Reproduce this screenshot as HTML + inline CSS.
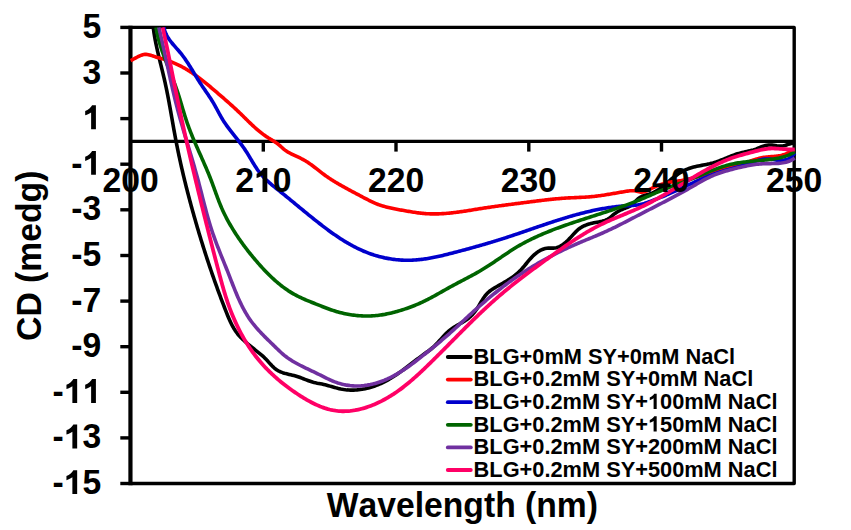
<!DOCTYPE html>
<html><head><meta charset="utf-8"><style>
html,body{margin:0;padding:0;background:#fff;width:851px;height:530px;overflow:hidden;font-family:"Liberation Sans",sans-serif}
</style></head><body>
<svg width="851" height="530" viewBox="0 0 851 530" style="position:absolute;left:0;top:0">
<g stroke="#000" stroke-width="3.4" fill="none" stroke-linecap="butt">
<path d="M130.60,27.40 H794.20 V483.50 H130.60" stroke-linejoin="round"/>
<line x1="130.45" y1="25.70" x2="130.45" y2="485.20" stroke-width="4.2"/>
<line x1="130.6" y1="141.4" x2="794.2" y2="141.4"/>
<line x1="120.3" y1="27.4" x2="130.6" y2="27.4"/>
<line x1="120.3" y1="73.0" x2="130.6" y2="73.0"/>
<line x1="120.3" y1="118.6" x2="130.6" y2="118.6"/>
<line x1="120.3" y1="164.2" x2="130.6" y2="164.2"/>
<line x1="120.3" y1="209.8" x2="130.6" y2="209.8"/>
<line x1="120.3" y1="255.5" x2="130.6" y2="255.5"/>
<line x1="120.3" y1="301.1" x2="130.6" y2="301.1"/>
<line x1="120.3" y1="346.7" x2="130.6" y2="346.7"/>
<line x1="120.3" y1="392.3" x2="130.6" y2="392.3"/>
<line x1="120.3" y1="437.9" x2="130.6" y2="437.9"/>
<line x1="120.3" y1="483.5" x2="130.6" y2="483.5"/>
<line x1="263.3" y1="141.4" x2="263.3" y2="151.6"/>
<line x1="396.0" y1="141.4" x2="396.0" y2="151.6"/>
<line x1="528.8" y1="141.4" x2="528.8" y2="151.6"/>
<line x1="661.5" y1="141.4" x2="661.5" y2="151.6"/>
</g>
<g fill="none" stroke-linejoin="round" stroke-linecap="butt">
<path d="M153.26,27.40 L153.39,28.51 L153.60,30.13 L153.83,31.75 L154.08,33.37 L154.34,34.99 L154.61,36.60 L154.89,38.21 L155.19,39.82 L155.50,41.43 L155.82,43.04 L156.15,44.64 L156.48,46.24 L156.83,47.85 L157.18,49.45 L157.54,51.04 L157.91,52.64 L158.29,54.24 L158.66,55.83 L159.05,57.43 L159.43,59.02 L159.82,60.62 L160.21,62.21 L160.60,63.80 L161.00,65.40 L161.39,66.99 L161.78,68.58 L162.17,70.17 L162.56,71.77 L162.95,73.36 L163.33,74.96 L163.71,76.55 L164.08,78.15 L164.45,79.75 L164.81,81.34 L165.16,82.94 L165.51,84.54 L165.85,86.14 L166.19,87.75 L166.52,89.35 L166.85,90.95 L167.17,92.56 L167.49,94.16 L167.80,95.77 L168.11,97.37 L168.42,98.98 L168.72,100.59 L169.02,102.20 L169.32,103.81 L169.61,105.42 L169.90,107.03 L170.19,108.64 L170.48,110.25 L170.77,111.86 L171.05,113.47 L171.34,115.08 L171.62,116.69 L171.90,118.30 L172.19,119.91 L172.47,121.52 L172.76,123.13 L173.04,124.74 L173.33,126.36 L173.61,127.97 L173.90,129.58 L174.19,131.19 L174.48,132.80 L174.78,134.41 L175.08,136.02 L175.38,137.63 L175.68,139.23 L175.99,140.84 L176.30,142.45 L176.61,144.06 L176.93,145.66 L177.25,147.27 L177.57,148.87 L177.90,150.48 L178.23,152.08 L178.57,153.68 L178.90,155.29 L179.25,156.89 L179.59,158.49 L179.94,160.09 L180.29,161.69 L180.65,163.29 L181.00,164.89 L181.36,166.49 L181.73,168.09 L182.10,169.68 L182.47,171.28 L182.84,172.87 L183.22,174.47 L183.60,176.06 L183.98,177.66 L184.36,179.25 L184.75,180.84 L185.14,182.43 L185.54,184.02 L185.93,185.61 L186.33,187.20 L186.74,188.79 L187.14,190.38 L187.55,191.96 L187.96,193.55 L188.37,195.13 L188.79,196.72 L189.20,198.30 L189.62,199.88 L190.05,201.46 L190.47,203.04 L190.90,204.62 L191.33,206.20 L191.76,207.78 L192.20,209.36 L192.63,210.93 L193.07,212.51 L193.52,214.08 L193.96,215.66 L194.41,217.23 L194.85,218.80 L195.30,220.37 L195.76,221.94 L196.21,223.51 L196.67,225.08 L197.13,226.65 L197.59,228.21 L198.05,229.78 L198.51,231.34 L198.98,232.91 L199.45,234.47 L199.92,236.03 L200.40,237.59 L200.87,239.15 L201.35,240.71 L201.84,242.27 L202.32,243.83 L202.80,245.39 L203.29,246.95 L203.78,248.50 L204.28,250.06 L204.77,251.61 L205.27,253.17 L205.77,254.72 L206.28,256.28 L206.78,257.83 L207.29,259.38 L207.80,260.93 L208.31,262.48 L208.83,264.03 L209.35,265.58 L209.87,267.13 L210.39,268.68 L210.92,270.23 L211.45,271.78 L211.98,273.32 L212.51,274.87 L213.05,276.42 L213.59,277.96 L214.13,279.51 L214.68,281.05 L215.23,282.60 L215.78,284.14 L216.33,285.69 L216.89,287.23 L217.45,288.77 L218.01,290.32 L218.57,291.86 L219.14,293.40 L219.71,294.94 L220.29,296.49 L220.86,298.03 L221.44,299.57 L222.03,301.11 L222.61,302.65 L223.20,304.19 L223.79,305.73 L224.39,307.27 L224.99,308.81 L225.59,310.35 L226.19,311.89 L226.80,313.43 L227.42,314.96 L228.05,316.49 L228.69,318.01 L229.35,319.52 L230.02,321.01 L230.72,322.49 L231.44,323.95 L232.18,325.40 L232.96,326.82 L233.76,328.22 L234.60,329.59 L235.48,330.93 L236.39,332.24 L237.34,333.52 L238.34,334.77 L239.39,335.98 L240.47,337.15 L241.60,338.30 L242.76,339.42 L243.96,340.52 L245.17,341.61 L246.41,342.69 L247.66,343.76 L248.92,344.82 L250.20,345.88 L251.48,346.93 L252.76,347.97 L254.05,349.01 L255.34,350.04 L256.62,351.06 L257.89,352.07 L259.15,353.08 L260.40,354.10 L261.64,355.13 L262.85,356.18 L264.05,357.28 L265.21,358.42 L266.36,359.61 L267.48,360.83 L268.60,362.08 L269.71,363.33 L270.84,364.56 L271.99,365.77 L273.16,366.93 L274.37,368.03 L275.62,369.05 L276.93,369.97 L278.30,370.79 L279.72,371.51 L281.20,372.13 L282.73,372.68 L284.29,373.17 L285.87,373.61 L287.48,374.01 L289.11,374.39 L290.74,374.77 L292.36,375.16 L293.98,375.56 L295.58,376.00 L297.16,376.49 L298.72,377.01 L300.26,377.56 L301.79,378.13 L303.32,378.72 L304.83,379.31 L306.35,379.90 L307.86,380.47 L309.39,381.02 L310.92,381.54 L312.46,382.03 L314.02,382.47 L315.61,382.85 L317.20,383.19 L318.82,383.49 L320.43,383.79 L322.04,384.10 L323.64,384.44 L325.23,384.82 L326.80,385.23 L328.37,385.66 L329.93,386.11 L331.48,386.56 L333.03,387.01 L334.58,387.46 L336.13,387.88 L337.68,388.29 L339.23,388.66 L340.80,389.00 L342.37,389.30 L343.95,389.56 L345.55,389.76 L347.16,389.92 L348.78,390.03 L350.42,390.09 L352.06,390.11 L353.70,390.08 L355.35,390.01 L357.01,389.90 L358.66,389.74 L360.31,389.54 L361.96,389.30 L363.60,389.01 L365.24,388.69 L366.86,388.33 L368.48,387.94 L370.08,387.50 L371.67,387.03 L373.24,386.53 L374.80,385.99 L376.34,385.42 L377.86,384.82 L379.36,384.18 L380.85,383.52 L382.33,382.83 L383.79,382.11 L385.24,381.37 L386.67,380.60 L388.09,379.81 L389.50,379.00 L390.90,378.17 L392.29,377.31 L393.67,376.44 L395.04,375.56 L396.40,374.65 L397.75,373.73 L399.09,372.80 L400.42,371.86 L401.75,370.90 L403.08,369.94 L404.39,368.97 L405.71,367.99 L407.02,367.00 L408.32,366.01 L409.62,365.02 L410.92,364.03 L412.22,363.03 L413.51,362.03 L414.81,361.04 L416.10,360.04 L417.40,359.06 L418.69,358.07 L419.99,357.10 L421.29,356.13 L422.59,355.16 L423.89,354.21 L425.20,353.27 L426.51,352.34 L427.82,351.41 L429.11,350.46 L430.38,349.50 L431.64,348.50 L432.86,347.47 L434.05,346.40 L435.21,345.29 L436.34,344.13 L437.45,342.96 L438.55,341.75 L439.63,340.54 L440.71,339.32 L441.80,338.10 L442.89,336.89 L444.00,335.70 L445.13,334.52 L446.28,333.38 L447.45,332.26 L448.66,331.18 L449.91,330.15 L451.19,329.16 L452.52,328.22 L453.88,327.33 L455.27,326.46 L456.68,325.63 L458.10,324.80 L459.53,323.99 L460.96,323.17 L462.38,322.35 L463.78,321.50 L465.17,320.63 L466.52,319.72 L467.83,318.77 L469.10,317.77 L470.32,316.70 L471.48,315.57 L472.60,314.39 L473.67,313.15 L474.70,311.87 L475.69,310.54 L476.65,309.17 L477.57,307.78 L478.46,306.35 L479.33,304.91 L480.19,303.46 L481.05,302.01 L481.92,300.57 L482.80,299.16 L483.71,297.78 L484.66,296.45 L485.66,295.17 L486.71,293.96 L487.83,292.83 L489.01,291.77 L490.25,290.77 L491.54,289.83 L492.87,288.94 L494.24,288.08 L495.63,287.25 L497.04,286.44 L498.47,285.64 L499.90,284.84 L501.33,284.04 L502.76,283.23 L504.18,282.41 L505.60,281.58 L507.01,280.74 L508.40,279.87 L509.78,278.99 L511.14,278.09 L512.48,277.16 L513.80,276.20 L515.09,275.21 L516.35,274.19 L517.59,273.14 L518.78,272.04 L519.95,270.91 L521.07,269.74 L522.17,268.53 L523.24,267.29 L524.29,266.04 L525.34,264.77 L526.38,263.49 L527.42,262.22 L528.47,260.95 L529.53,259.69 L530.62,258.45 L531.74,257.24 L532.89,256.06 L534.09,254.93 L535.33,253.84 L536.61,252.81 L537.94,251.85 L539.31,250.98 L540.72,250.20 L542.17,249.52 L543.66,248.97 L545.19,248.54 L546.76,248.26 L548.36,248.13 L549.98,248.11 L551.62,248.13 L553.24,248.11 L554.84,247.97 L556.40,247.66 L557.91,247.20 L559.39,246.59 L560.83,245.86 L562.23,245.01 L563.59,244.06 L564.90,243.03 L566.18,241.93 L567.42,240.77 L568.61,239.57 L569.77,238.34 L570.90,237.10 L572.02,235.85 L573.13,234.61 L574.24,233.39 L575.37,232.21 L576.52,231.06 L577.71,229.98 L578.93,228.96 L580.22,228.02 L581.56,227.17 L582.96,226.41 L584.41,225.72 L585.90,225.10 L587.43,224.55 L589.00,224.06 L590.59,223.61 L592.20,223.21 L593.83,222.85 L595.47,222.51 L597.11,222.20 L598.74,221.91 L600.37,221.60 L601.97,221.26 L603.54,220.85 L605.06,220.36 L606.54,219.76 L607.95,219.02 L609.29,218.12 L610.59,217.10 L611.86,216.02 L613.12,214.93 L614.42,213.89 L615.75,212.93 L617.13,212.04 L618.54,211.22 L619.98,210.46 L621.44,209.75 L622.93,209.09 L624.45,208.46 L625.97,207.87 L627.50,207.27 L628.99,206.62 L630.41,205.86 L631.74,204.95 L632.98,203.90 L634.16,202.75 L635.31,201.55 L636.46,200.36 L637.64,199.21 L638.88,198.15 L640.21,197.23 L641.64,196.48 L643.16,195.87 L644.73,195.34 L646.35,194.88 L647.97,194.44 L649.58,193.97 L651.15,193.45 L652.66,192.84 L654.13,192.16 L655.56,191.41 L656.94,190.60 L658.29,189.73 L659.62,188.81 L660.91,187.85 L662.19,186.85 L663.45,185.83 L664.70,184.78 L665.95,183.73 L667.19,182.66 L668.44,181.59 L669.70,180.53 L670.97,179.48 L672.24,178.44 L673.53,177.41 L674.83,176.41 L676.15,175.44 L677.48,174.49 L678.83,173.58 L680.20,172.71 L681.59,171.88 L683.00,171.10 L684.44,170.36 L685.90,169.69 L687.39,169.07 L688.90,168.51 L690.43,168.00 L691.99,167.53 L693.56,167.11 L695.15,166.72 L696.76,166.36 L698.37,166.02 L699.99,165.69 L701.62,165.38 L703.25,165.07 L704.88,164.75 L706.50,164.43 L708.13,164.09 L709.74,163.74 L711.35,163.35 L712.94,162.93 L714.52,162.47 L716.08,161.98 L717.63,161.44 L719.16,160.88 L720.69,160.29 L722.21,159.69 L723.72,159.07 L725.23,158.44 L726.74,157.81 L728.25,157.18 L729.76,156.57 L731.27,155.97 L732.80,155.38 L734.33,154.83 L735.87,154.30 L737.43,153.82 L739.00,153.37 L740.58,152.95 L742.17,152.57 L743.77,152.19 L745.37,151.83 L746.97,151.47 L748.57,151.10 L750.16,150.71 L751.75,150.30 L753.33,149.86 L754.89,149.37 L756.43,148.83 L757.96,148.25 L759.48,147.64 L760.99,147.04 L762.50,146.46 L764.01,145.94 L765.54,145.50 L767.08,145.17 L768.64,144.97 L770.24,144.94 L771.85,145.04 L773.49,145.24 L775.14,145.49 L776.79,145.74 L778.44,145.94 L780.08,146.05 L781.71,146.03 L783.32,145.83 L784.91,145.45 L786.48,144.95 L788.06,144.41 L789.63,143.91 L791.23,143.50 L792.85,143.27 L794.52,143.29" stroke="#000000" stroke-width="3.6"/>
<path d="M130.60,60.53 L131.60,60.09 L132.62,59.58 L133.67,59.03 L134.75,58.44 L135.84,57.84 L136.95,57.23 L138.08,56.65 L139.22,56.09 L140.36,55.59 L141.51,55.16 L142.67,54.80 L143.83,54.55 L144.98,54.41 L146.13,54.40 L147.27,54.49 L148.42,54.68 L149.56,54.93 L150.71,55.25 L151.85,55.62 L153.00,56.01 L154.15,56.41 L155.31,56.81 L156.47,57.19 L157.64,57.53 L158.82,57.85 L159.99,58.15 L161.16,58.47 L162.33,58.80 L163.49,59.14 L164.64,59.50 L165.79,59.87 L166.93,60.25 L168.07,60.65 L169.20,61.06 L170.33,61.49 L171.45,61.93 L172.57,62.38 L173.68,62.84 L174.78,63.32 L175.88,63.81 L176.97,64.31 L178.06,64.82 L179.14,65.35 L180.21,65.88 L181.28,66.43 L182.34,66.99 L183.40,67.57 L184.45,68.15 L185.49,68.75 L186.53,69.36 L187.56,69.97 L188.58,70.60 L189.60,71.24 L190.61,71.89 L191.62,72.55 L192.62,73.22 L193.61,73.90 L194.60,74.59 L195.58,75.29 L196.56,75.99 L197.53,76.70 L198.50,77.42 L199.47,78.15 L200.43,78.88 L201.38,79.62 L202.33,80.36 L203.28,81.11 L204.23,81.87 L205.17,82.62 L206.11,83.39 L207.04,84.15 L207.97,84.92 L208.90,85.70 L209.83,86.47 L210.76,87.25 L211.68,88.03 L212.60,88.81 L213.52,89.59 L214.44,90.38 L215.36,91.16 L216.28,91.94 L217.19,92.72 L218.11,93.51 L219.02,94.29 L219.93,95.07 L220.84,95.86 L221.75,96.64 L222.66,97.43 L223.57,98.22 L224.47,99.01 L225.38,99.80 L226.28,100.59 L227.18,101.38 L228.08,102.17 L228.97,102.97 L229.87,103.77 L230.76,104.57 L231.65,105.37 L232.54,106.18 L233.43,106.99 L234.31,107.80 L235.19,108.61 L236.07,109.43 L236.95,110.25 L237.82,111.07 L238.69,111.90 L239.56,112.73 L240.43,113.56 L241.29,114.40 L242.16,115.24 L243.02,116.08 L243.87,116.93 L244.73,117.78 L245.59,118.62 L246.45,119.47 L247.31,120.31 L248.17,121.16 L249.04,122.00 L249.90,122.84 L250.77,123.67 L251.65,124.50 L252.52,125.32 L253.40,126.14 L254.29,126.96 L255.18,127.76 L256.08,128.56 L256.99,129.35 L257.90,130.13 L258.82,130.90 L259.75,131.66 L260.69,132.41 L261.63,133.15 L262.59,133.88 L263.55,134.59 L264.52,135.29 L265.51,135.98 L266.50,136.65 L267.51,137.31 L268.52,137.96 L269.55,138.59 L270.58,139.22 L271.61,139.85 L272.64,140.48 L273.66,141.12 L274.68,141.77 L275.68,142.43 L276.67,143.12 L277.65,143.83 L278.60,144.57 L279.54,145.34 L280.45,146.14 L281.35,146.96 L282.25,147.78 L283.15,148.59 L284.08,149.37 L285.03,150.11 L286.00,150.81 L287.01,151.47 L288.03,152.10 L289.07,152.70 L290.14,153.28 L291.21,153.83 L292.30,154.37 L293.39,154.89 L294.50,155.40 L295.60,155.91 L296.71,156.41 L297.82,156.92 L298.92,157.43 L300.02,157.95 L301.10,158.49 L302.18,159.04 L303.24,159.61 L304.29,160.20 L305.33,160.82 L306.35,161.45 L307.36,162.09 L308.37,162.76 L309.36,163.43 L310.34,164.12 L311.32,164.82 L312.29,165.53 L313.25,166.25 L314.20,166.97 L315.16,167.70 L316.11,168.44 L317.05,169.17 L318.00,169.91 L318.94,170.65 L319.88,171.38 L320.83,172.12 L321.78,172.85 L322.72,173.57 L323.68,174.28 L324.63,174.99 L325.59,175.69 L326.56,176.37 L327.53,177.05 L328.51,177.72 L329.49,178.38 L330.48,179.03 L331.47,179.67 L332.47,180.31 L333.48,180.94 L334.48,181.56 L335.50,182.18 L336.52,182.79 L337.54,183.40 L338.57,184.00 L339.60,184.60 L340.64,185.19 L341.68,185.78 L342.73,186.37 L343.78,186.95 L344.83,187.53 L345.88,188.11 L346.94,188.69 L348.00,189.26 L349.06,189.83 L350.13,190.40 L351.19,190.97 L352.26,191.54 L353.33,192.10 L354.40,192.67 L355.47,193.23 L356.54,193.80 L357.61,194.37 L358.68,194.93 L359.75,195.50 L360.82,196.07 L361.89,196.64 L362.96,197.22 L364.03,197.79 L365.10,198.35 L366.17,198.92 L367.24,199.47 L368.32,200.02 L369.40,200.57 L370.48,201.10 L371.56,201.62 L372.65,202.13 L373.74,202.63 L374.84,203.11 L375.94,203.57 L377.05,204.02 L378.17,204.44 L379.29,204.85 L380.42,205.24 L381.55,205.61 L382.69,205.96 L383.83,206.30 L384.98,206.63 L386.14,206.94 L387.30,207.24 L388.46,207.52 L389.62,207.80 L390.79,208.06 L391.97,208.31 L393.15,208.56 L394.33,208.80 L395.51,209.03 L396.69,209.26 L397.88,209.48 L399.07,209.69 L400.26,209.91 L401.45,210.12 L402.65,210.33 L403.84,210.54 L405.04,210.74 L406.23,210.95 L407.43,211.16 L408.63,211.37 L409.83,211.57 L411.02,211.77 L412.22,211.96 L413.42,212.16 L414.62,212.34 L415.82,212.52 L417.02,212.69 L418.22,212.85 L419.42,213.01 L420.62,213.15 L421.82,213.28 L423.02,213.40 L424.22,213.51 L425.42,213.61 L426.62,213.69 L427.82,213.76 L429.02,213.82 L430.22,213.86 L431.42,213.89 L432.62,213.91 L433.82,213.92 L435.02,213.92 L436.22,213.90 L437.42,213.88 L438.62,213.84 L439.81,213.79 L441.01,213.74 L442.21,213.67 L443.41,213.60 L444.61,213.52 L445.80,213.42 L447.00,213.33 L448.20,213.22 L449.40,213.10 L450.59,212.98 L451.79,212.85 L452.99,212.72 L454.18,212.58 L455.38,212.43 L456.58,212.28 L457.77,212.12 L458.97,211.96 L460.17,211.80 L461.36,211.63 L462.56,211.45 L463.75,211.28 L464.95,211.10 L466.14,210.91 L467.34,210.73 L468.53,210.54 L469.73,210.35 L470.92,210.16 L472.12,209.97 L473.31,209.78 L474.50,209.58 L475.70,209.39 L476.89,209.20 L478.08,209.00 L479.28,208.81 L480.47,208.62 L481.66,208.44 L482.85,208.25 L484.05,208.07 L485.24,207.88 L486.43,207.70 L487.62,207.53 L488.81,207.35 L490.01,207.18 L491.20,207.00 L492.39,206.83 L493.58,206.67 L494.77,206.50 L495.96,206.33 L497.15,206.17 L498.34,206.01 L499.54,205.84 L500.73,205.68 L501.92,205.52 L503.11,205.36 L504.30,205.21 L505.49,205.05 L506.68,204.89 L507.87,204.74 L509.07,204.58 L510.26,204.43 L511.45,204.28 L512.64,204.12 L513.83,203.97 L515.03,203.81 L516.22,203.66 L517.41,203.51 L518.60,203.35 L519.80,203.20 L520.99,203.05 L522.18,202.89 L523.38,202.74 L524.57,202.58 L525.77,202.43 L526.96,202.27 L528.16,202.12 L529.35,201.96 L530.55,201.81 L531.74,201.66 L532.93,201.50 L534.13,201.35 L535.32,201.20 L536.52,201.05 L537.71,200.90 L538.90,200.75 L540.09,200.61 L541.29,200.46 L542.48,200.32 L543.67,200.18 L544.86,200.04 L546.05,199.91 L547.24,199.77 L548.43,199.64 L549.61,199.51 L550.80,199.38 L551.99,199.26 L553.18,199.14 L554.37,199.02 L555.56,198.91 L556.75,198.80 L557.94,198.69 L559.14,198.59 L560.33,198.49 L561.52,198.39 L562.72,198.30 L563.91,198.22 L565.11,198.13 L566.31,198.06 L567.51,197.98 L568.71,197.92 L569.91,197.85 L571.12,197.79 L572.32,197.74 L573.53,197.68 L574.74,197.63 L575.94,197.58 L577.15,197.53 L578.36,197.48 L579.57,197.42 L580.78,197.37 L581.98,197.31 L583.19,197.25 L584.40,197.18 L585.60,197.11 L586.81,197.04 L588.01,196.95 L589.22,196.86 L590.42,196.77 L591.61,196.66 L592.81,196.54 L594.01,196.42 L595.20,196.29 L596.39,196.14 L597.58,196.00 L598.77,195.84 L599.96,195.68 L601.15,195.51 L602.34,195.34 L603.53,195.16 L604.72,194.97 L605.90,194.78 L607.09,194.59 L608.28,194.39 L609.47,194.20 L610.66,193.99 L611.85,193.79 L613.04,193.58 L614.23,193.38 L615.43,193.17 L616.62,192.96 L617.82,192.75 L619.02,192.54 L620.22,192.33 L621.42,192.12 L622.63,191.92 L623.84,191.71 L625.05,191.51 L626.26,191.32 L627.48,191.13 L628.69,190.96 L629.90,190.83 L631.10,190.73 L632.29,190.69 L633.47,190.71 L634.63,190.79 L635.77,190.96 L636.90,191.22 L638.00,191.55 L639.10,191.86 L640.19,192.09 L641.29,192.16 L642.41,192.09 L643.53,191.90 L644.65,191.59 L645.78,191.20 L646.91,190.74 L648.05,190.22 L649.19,189.66 L650.33,189.08 L651.46,188.51 L652.60,187.94 L653.73,187.41 L654.86,186.89 L656.00,186.40 L657.13,185.93 L658.26,185.49 L659.39,185.07 L660.52,184.67 L661.66,184.29 L662.80,183.94 L663.94,183.61 L665.09,183.30 L666.25,183.01 L667.41,182.75 L668.57,182.50 L669.75,182.28 L670.93,182.07 L672.11,181.88 L673.30,181.70 L674.49,181.53 L675.68,181.36 L676.88,181.19 L678.07,181.02 L679.27,180.85 L680.46,180.66 L681.65,180.47 L682.84,180.26 L684.03,180.04 L685.21,179.81 L686.39,179.57 L687.57,179.31 L688.75,179.04 L689.92,178.77 L691.09,178.48 L692.26,178.19 L693.43,177.89 L694.59,177.58 L695.76,177.27 L696.92,176.95 L698.08,176.62 L699.24,176.29 L700.40,175.95 L701.56,175.61 L702.72,175.27 L703.87,174.93 L705.03,174.58 L706.19,174.24 L707.34,173.89 L708.50,173.54 L709.65,173.20 L710.81,172.85 L711.96,172.51 L713.12,172.17 L714.28,171.84 L715.43,171.51 L716.59,171.18 L717.75,170.85 L718.91,170.53 L720.07,170.21 L721.22,169.89 L722.38,169.57 L723.54,169.25 L724.70,168.93 L725.86,168.61 L727.02,168.29 L728.17,167.97 L729.33,167.65 L730.49,167.33 L731.65,167.00 L732.80,166.68 L733.96,166.35 L735.11,166.01 L736.27,165.68 L737.42,165.33 L738.57,164.99 L739.72,164.64 L740.87,164.28 L742.02,163.91 L743.17,163.55 L744.32,163.17 L745.47,162.79 L746.61,162.40 L747.75,162.00 L748.90,161.61 L750.04,161.21 L751.19,160.82 L752.33,160.44 L753.48,160.06 L754.63,159.69 L755.78,159.33 L756.94,158.99 L758.10,158.67 L759.26,158.36 L760.43,158.08 L761.60,157.82 L762.78,157.59 L763.96,157.39 L765.15,157.21 L766.35,157.06 L767.55,156.94 L768.75,156.82 L769.95,156.72 L771.16,156.63 L772.36,156.53 L773.57,156.43 L774.77,156.32 L775.97,156.20 L777.16,156.05 L778.35,155.89 L779.53,155.69 L780.70,155.45 L781.86,155.18 L783.02,154.86 L784.16,154.49 L785.29,154.07 L786.41,153.59 L787.52,153.06 L788.63,152.53 L789.75,152.04 L790.89,151.62 L792.05,151.31 L793.25,151.16 L794.50,151.21" stroke="#ff0000" stroke-width="3.6"/>
<path d="M164.04,27.40 L164.25,28.54 L164.55,29.77 L164.91,30.97 L165.32,32.15 L165.79,33.29 L166.30,34.42 L166.86,35.52 L167.46,36.60 L168.10,37.67 L168.78,38.71 L169.48,39.74 L170.22,40.76 L170.98,41.76 L171.76,42.76 L172.57,43.74 L173.39,44.72 L174.22,45.69 L175.06,46.66 L175.90,47.63 L176.75,48.59 L177.60,49.56 L178.45,50.53 L179.29,51.51 L180.12,52.49 L180.93,53.48 L181.73,54.48 L182.51,55.49 L183.28,56.51 L184.04,57.53 L184.78,58.57 L185.51,59.61 L186.23,60.66 L186.93,61.71 L187.63,62.77 L188.32,63.84 L189.01,64.90 L189.68,65.98 L190.35,67.05 L191.02,68.13 L191.68,69.22 L192.34,70.30 L192.99,71.38 L193.65,72.47 L194.30,73.56 L194.96,74.64 L195.61,75.73 L196.27,76.81 L196.93,77.89 L197.60,78.97 L198.27,80.05 L198.95,81.13 L199.64,82.19 L200.33,83.26 L201.03,84.32 L201.73,85.38 L202.45,86.43 L203.16,87.48 L203.88,88.53 L204.61,89.58 L205.33,90.63 L206.05,91.68 L206.77,92.73 L207.49,93.78 L208.21,94.83 L208.92,95.89 L209.63,96.95 L210.33,98.02 L211.02,99.09 L211.70,100.16 L212.38,101.24 L213.04,102.33 L213.69,103.43 L214.32,104.54 L214.95,105.65 L215.56,106.77 L216.17,107.89 L216.77,109.01 L217.38,110.14 L217.97,111.26 L218.58,112.39 L219.18,113.51 L219.79,114.63 L220.40,115.74 L221.03,116.85 L221.66,117.95 L222.31,119.04 L222.98,120.11 L223.66,121.18 L224.35,122.24 L225.06,123.29 L225.78,124.33 L226.50,125.36 L227.24,126.39 L227.99,127.41 L228.75,128.42 L229.51,129.43 L230.28,130.43 L231.06,131.43 L231.84,132.43 L232.62,133.43 L233.41,134.42 L234.20,135.42 L234.99,136.41 L235.78,137.40 L236.57,138.40 L237.36,139.40 L238.14,140.40 L238.92,141.40 L239.70,142.40 L240.47,143.42 L241.24,144.43 L242.00,145.45 L242.75,146.48 L243.49,147.52 L244.22,148.56 L244.94,149.62 L245.65,150.68 L246.34,151.75 L247.03,152.83 L247.71,153.92 L248.38,155.01 L249.04,156.11 L249.70,157.21 L250.36,158.31 L251.01,159.41 L251.67,160.52 L252.32,161.62 L252.98,162.71 L253.65,163.80 L254.32,164.89 L255.00,165.97 L255.69,167.04 L256.39,168.10 L257.10,169.15 L257.83,170.19 L258.57,171.21 L259.34,172.22 L260.11,173.21 L260.91,174.19 L261.73,175.14 L262.57,176.08 L263.43,177.01 L264.31,177.92 L265.20,178.81 L266.10,179.70 L267.02,180.57 L267.96,181.43 L268.90,182.28 L269.86,183.12 L270.82,183.95 L271.80,184.77 L272.78,185.59 L273.76,186.40 L274.75,187.21 L275.75,188.01 L276.74,188.81 L277.74,189.61 L278.74,190.41 L279.74,191.20 L280.74,192.00 L281.73,192.80 L282.72,193.60 L283.72,194.40 L284.70,195.21 L285.69,196.01 L286.68,196.81 L287.66,197.62 L288.65,198.42 L289.63,199.23 L290.61,200.03 L291.59,200.84 L292.57,201.65 L293.55,202.45 L294.53,203.26 L295.50,204.07 L296.48,204.87 L297.46,205.68 L298.44,206.49 L299.41,207.29 L300.39,208.10 L301.37,208.90 L302.35,209.71 L303.33,210.51 L304.31,211.32 L305.29,212.12 L306.27,212.92 L307.25,213.72 L308.23,214.52 L309.22,215.32 L310.20,216.12 L311.19,216.91 L312.18,217.71 L313.17,218.50 L314.16,219.30 L315.15,220.09 L316.15,220.88 L317.15,221.66 L318.15,222.45 L319.15,223.23 L320.15,224.01 L321.16,224.79 L322.17,225.57 L323.18,226.35 L324.20,227.12 L325.22,227.89 L326.24,228.65 L327.26,229.42 L328.29,230.18 L329.32,230.93 L330.36,231.68 L331.39,232.43 L332.43,233.17 L333.48,233.90 L334.52,234.64 L335.58,235.36 L336.63,236.08 L337.69,236.79 L338.75,237.50 L339.82,238.20 L340.89,238.90 L341.96,239.58 L343.04,240.26 L344.12,240.94 L345.21,241.60 L346.30,242.26 L347.39,242.91 L348.49,243.55 L349.59,244.18 L350.70,244.80 L351.81,245.41 L352.93,246.02 L354.05,246.61 L355.18,247.19 L356.31,247.77 L357.45,248.33 L358.59,248.88 L359.74,249.42 L360.89,249.95 L362.04,250.47 L363.21,250.98 L364.37,251.47 L365.55,251.96 L366.73,252.43 L367.91,252.88 L369.10,253.33 L370.29,253.76 L371.49,254.18 L372.70,254.58 L373.91,254.98 L375.13,255.35 L376.35,255.72 L377.57,256.07 L378.80,256.41 L380.03,256.73 L381.27,257.04 L382.50,257.34 L383.75,257.62 L384.99,257.89 L386.24,258.14 L387.49,258.38 L388.75,258.61 L390.00,258.82 L391.26,259.02 L392.52,259.20 L393.78,259.37 L395.05,259.53 L396.31,259.67 L397.58,259.79 L398.85,259.90 L400.11,260.00 L401.38,260.08 L402.65,260.14 L403.92,260.20 L405.19,260.23 L406.46,260.25 L407.73,260.26 L408.99,260.25 L410.26,260.22 L411.53,260.18 L412.79,260.13 L414.06,260.06 L415.32,259.97 L416.58,259.88 L417.84,259.77 L419.10,259.64 L420.36,259.51 L421.62,259.36 L422.88,259.20 L424.14,259.03 L425.40,258.85 L426.65,258.66 L427.91,258.46 L429.16,258.25 L430.41,258.03 L431.67,257.80 L432.92,257.56 L434.17,257.31 L435.42,257.06 L436.67,256.80 L437.91,256.53 L439.16,256.26 L440.41,255.98 L441.65,255.69 L442.90,255.40 L444.14,255.10 L445.39,254.80 L446.63,254.49 L447.87,254.18 L449.11,253.87 L450.35,253.56 L451.59,253.24 L452.83,252.92 L454.07,252.59 L455.30,252.27 L456.54,251.94 L457.78,251.62 L459.01,251.29 L460.24,250.96 L461.48,250.63 L462.71,250.30 L463.94,249.97 L465.17,249.64 L466.40,249.31 L467.63,248.97 L468.86,248.64 L470.09,248.30 L471.31,247.97 L472.54,247.63 L473.76,247.29 L474.99,246.95 L476.21,246.60 L477.44,246.26 L478.66,245.91 L479.88,245.57 L481.10,245.22 L482.32,244.87 L483.54,244.51 L484.76,244.16 L485.98,243.80 L487.20,243.45 L488.42,243.09 L489.64,242.73 L490.85,242.36 L492.07,242.00 L493.28,241.63 L494.50,241.26 L495.71,240.89 L496.92,240.52 L498.14,240.14 L499.35,239.76 L500.56,239.38 L501.77,239.00 L502.98,238.62 L504.19,238.23 L505.40,237.84 L506.61,237.45 L507.82,237.06 L509.02,236.66 L510.23,236.26 L511.44,235.86 L512.64,235.46 L513.85,235.06 L515.06,234.65 L516.26,234.25 L517.47,233.84 L518.67,233.43 L519.88,233.02 L521.08,232.61 L522.29,232.20 L523.49,231.79 L524.69,231.38 L525.90,230.96 L527.10,230.55 L528.31,230.13 L529.51,229.72 L530.71,229.30 L531.92,228.89 L533.12,228.48 L534.33,228.06 L535.53,227.65 L536.74,227.23 L537.94,226.82 L539.15,226.41 L540.35,226.00 L541.56,225.59 L542.76,225.18 L543.97,224.77 L545.18,224.36 L546.38,223.96 L547.59,223.55 L548.80,223.15 L550.01,222.75 L551.22,222.35 L552.43,221.95 L553.64,221.55 L554.85,221.16 L556.06,220.77 L557.27,220.38 L558.48,219.99 L559.70,219.61 L560.91,219.23 L562.13,218.85 L563.34,218.47 L564.56,218.10 L565.78,217.73 L567.00,217.36 L568.22,217.00 L569.44,216.64 L570.66,216.28 L571.88,215.93 L573.10,215.58 L574.33,215.24 L575.55,214.89 L576.78,214.56 L578.01,214.22 L579.24,213.89 L580.47,213.57 L581.70,213.25 L582.93,212.94 L584.16,212.63 L585.40,212.32 L586.63,212.02 L587.87,211.72 L589.11,211.43 L590.34,211.15 L591.58,210.87 L592.82,210.60 L594.07,210.33 L595.31,210.07 L596.56,209.81 L597.80,209.57 L599.05,209.32 L600.30,209.09 L601.55,208.86 L602.80,208.63 L604.05,208.42 L605.30,208.21 L606.56,208.00 L607.81,207.81 L609.07,207.62 L610.33,207.44 L611.59,207.26 L612.85,207.10 L614.11,206.94 L615.38,206.79 L616.64,206.65 L617.91,206.51 L619.18,206.39 L620.44,206.27 L621.72,206.16 L622.99,206.06 L624.26,205.97 L625.54,205.88 L626.81,205.81 L628.09,205.73 L629.37,205.66 L630.64,205.59 L631.91,205.50 L633.18,205.41 L634.45,205.30 L635.71,205.16 L636.97,205.01 L638.22,204.82 L639.47,204.60 L640.71,204.35 L641.94,204.06 L643.16,203.74 L644.38,203.39 L645.59,203.01 L646.79,202.62 L648.00,202.21 L649.20,201.78 L650.39,201.35 L651.59,200.90 L652.78,200.46 L653.97,200.01 L655.16,199.55 L656.35,199.09 L657.54,198.62 L658.72,198.15 L659.90,197.67 L661.08,197.19 L662.26,196.71 L663.44,196.22 L664.61,195.72 L665.79,195.23 L666.96,194.72 L668.13,194.22 L669.30,193.71 L670.47,193.19 L671.63,192.67 L672.80,192.15 L673.96,191.63 L675.12,191.10 L676.28,190.57 L677.44,190.04 L678.60,189.50 L679.75,188.96 L680.91,188.43 L682.07,187.89 L683.22,187.35 L684.38,186.81 L685.53,186.27 L686.69,185.73 L687.84,185.19 L689.00,184.66 L690.16,184.12 L691.31,183.59 L692.47,183.05 L693.63,182.52 L694.79,182.00 L695.95,181.47 L697.11,180.95 L698.27,180.43 L699.43,179.92 L700.60,179.41 L701.77,178.91 L702.93,178.41 L704.10,177.92 L705.28,177.43 L706.45,176.95 L707.63,176.47 L708.81,176.00 L709.99,175.54 L711.18,175.09 L712.36,174.64 L713.55,174.20 L714.75,173.77 L715.94,173.35 L717.14,172.94 L718.35,172.53 L719.56,172.14 L720.77,171.76 L721.98,171.38 L723.20,171.02 L724.42,170.66 L725.64,170.31 L726.87,169.96 L728.10,169.62 L729.33,169.29 L730.56,168.95 L731.79,168.62 L733.02,168.29 L734.25,167.96 L735.48,167.63 L736.71,167.29 L737.94,166.96 L739.17,166.61 L740.40,166.27 L741.63,165.92 L742.85,165.56 L744.07,165.19 L745.29,164.82 L746.50,164.43 L747.72,164.03 L748.92,163.63 L750.13,163.21 L751.33,162.77 L752.52,162.34 L753.71,161.90 L754.91,161.47 L756.10,161.05 L757.29,160.66 L758.49,160.29 L759.68,159.95 L760.88,159.65 L762.09,159.40 L763.30,159.20 L764.52,159.06 L765.75,158.99 L766.98,158.98 L768.23,159.03 L769.47,159.13 L770.72,159.26 L771.98,159.41 L773.23,159.59 L774.48,159.76 L775.73,159.94 L776.98,160.09 L778.22,160.22 L779.45,160.32 L780.67,160.37 L781.88,160.36 L783.08,160.28 L784.27,160.12 L785.43,159.88 L786.59,159.55 L787.72,159.11 L788.82,158.58 L789.90,157.93 L790.96,157.16 L791.98,156.28 L792.97,155.27 L793.92,154.12 L794.83,152.84" stroke="#0000cc" stroke-width="3.6"/>
<path d="M156.03,27.40 L156.07,27.67 L156.31,29.09 L156.57,30.50 L156.84,31.91 L157.13,33.30 L157.44,34.70 L157.76,36.09 L158.10,37.47 L158.45,38.85 L158.81,40.22 L159.19,41.59 L159.58,42.95 L159.98,44.31 L160.40,45.67 L160.82,47.02 L161.26,48.37 L161.70,49.72 L162.16,51.06 L162.62,52.40 L163.09,53.74 L163.57,55.08 L164.06,56.41 L164.55,57.74 L165.05,59.07 L165.55,60.40 L166.05,61.72 L166.57,63.05 L167.08,64.37 L167.60,65.69 L168.12,67.01 L168.64,68.34 L169.16,69.66 L169.69,70.98 L170.21,72.30 L170.73,73.62 L171.25,74.95 L171.77,76.27 L172.29,77.59 L172.81,78.92 L173.32,80.25 L173.83,81.57 L174.33,82.90 L174.83,84.24 L175.32,85.57 L175.81,86.91 L176.29,88.25 L176.76,89.59 L177.22,90.93 L177.68,92.28 L178.12,93.63 L178.56,94.99 L178.99,96.35 L179.42,97.71 L179.84,99.07 L180.25,100.43 L180.66,101.80 L181.07,103.16 L181.48,104.53 L181.88,105.90 L182.29,107.26 L182.69,108.63 L183.10,109.99 L183.51,111.36 L183.92,112.72 L184.33,114.09 L184.75,115.45 L185.18,116.81 L185.61,118.16 L186.05,119.51 L186.49,120.86 L186.95,122.21 L187.41,123.55 L187.89,124.89 L188.37,126.23 L188.86,127.56 L189.36,128.89 L189.87,130.22 L190.38,131.54 L190.90,132.86 L191.43,134.18 L191.96,135.49 L192.50,136.81 L193.04,138.12 L193.59,139.43 L194.15,140.74 L194.71,142.04 L195.27,143.35 L195.83,144.65 L196.40,145.95 L196.97,147.26 L197.55,148.56 L198.12,149.86 L198.70,151.16 L199.28,152.46 L199.86,153.76 L200.44,155.05 L201.02,156.35 L201.59,157.65 L202.17,158.95 L202.75,160.25 L203.33,161.55 L203.90,162.86 L204.47,164.16 L205.04,165.46 L205.61,166.77 L206.17,168.08 L206.73,169.39 L207.28,170.70 L207.83,172.01 L208.38,173.32 L208.92,174.64 L209.45,175.96 L209.98,177.28 L210.50,178.61 L211.01,179.93 L211.52,181.26 L212.02,182.60 L212.52,183.93 L213.01,185.27 L213.50,186.61 L213.99,187.95 L214.47,189.28 L214.95,190.62 L215.44,191.96 L215.92,193.30 L216.41,194.64 L216.90,195.97 L217.39,197.31 L217.89,198.64 L218.40,199.97 L218.91,201.29 L219.42,202.61 L219.95,203.93 L220.49,205.24 L221.03,206.55 L221.59,207.85 L222.15,209.15 L222.73,210.44 L223.33,211.72 L223.93,213.00 L224.55,214.27 L225.18,215.54 L225.82,216.80 L226.47,218.06 L227.13,219.31 L227.81,220.55 L228.49,221.79 L229.19,223.02 L229.89,224.25 L230.60,225.48 L231.32,226.70 L232.05,227.91 L232.79,229.12 L233.54,230.33 L234.29,231.53 L235.05,232.73 L235.83,233.92 L236.60,235.11 L237.39,236.29 L238.19,237.47 L238.99,238.65 L239.80,239.82 L240.61,240.98 L241.44,242.14 L242.27,243.30 L243.11,244.45 L243.95,245.60 L244.80,246.74 L245.66,247.88 L246.53,249.01 L247.40,250.14 L248.28,251.27 L249.16,252.39 L250.05,253.50 L250.94,254.61 L251.84,255.72 L252.75,256.82 L253.66,257.92 L254.58,259.01 L255.50,260.10 L256.43,261.19 L257.37,262.27 L258.30,263.34 L259.25,264.41 L260.19,265.48 L261.15,266.54 L262.11,267.59 L263.07,268.64 L264.04,269.68 L265.02,270.72 L266.00,271.74 L267.00,272.76 L267.99,273.77 L269.00,274.78 L270.01,275.77 L271.03,276.75 L272.06,277.73 L273.10,278.69 L274.14,279.64 L275.19,280.58 L276.25,281.51 L277.32,282.43 L278.40,283.34 L279.49,284.23 L280.59,285.11 L281.70,285.98 L282.82,286.83 L283.95,287.67 L285.09,288.50 L286.24,289.30 L287.40,290.10 L288.57,290.88 L289.76,291.64 L290.95,292.38 L292.16,293.11 L293.38,293.82 L294.61,294.51 L295.86,295.19 L297.11,295.85 L298.38,296.49 L299.66,297.11 L300.95,297.72 L302.24,298.32 L303.55,298.91 L304.86,299.48 L306.18,300.05 L307.50,300.60 L308.82,301.15 L310.16,301.69 L311.49,302.23 L312.82,302.76 L314.16,303.29 L315.49,303.82 L316.83,304.35 L318.16,304.88 L319.49,305.40 L320.82,305.93 L322.15,306.46 L323.48,306.98 L324.81,307.49 L326.14,308.00 L327.47,308.50 L328.81,308.99 L330.14,309.47 L331.48,309.94 L332.83,310.39 L334.18,310.83 L335.53,311.25 L336.89,311.65 L338.25,312.04 L339.62,312.41 L340.99,312.76 L342.36,313.09 L343.74,313.41 L345.12,313.71 L346.51,313.99 L347.90,314.26 L349.29,314.50 L350.68,314.73 L352.08,314.94 L353.48,315.13 L354.88,315.31 L356.28,315.46 L357.69,315.60 L359.09,315.71 L360.50,315.81 L361.91,315.89 L363.33,315.95 L364.74,315.99 L366.15,316.00 L367.57,316.00 L368.98,315.98 L370.39,315.94 L371.81,315.88 L373.22,315.80 L374.64,315.70 L376.05,315.57 L377.47,315.43 L378.88,315.26 L380.29,315.08 L381.70,314.87 L383.11,314.64 L384.52,314.40 L385.93,314.13 L387.33,313.85 L388.74,313.55 L390.13,313.23 L391.53,312.90 L392.92,312.56 L394.31,312.20 L395.70,311.82 L397.08,311.44 L398.46,311.04 L399.84,310.63 L401.21,310.21 L402.57,309.78 L403.93,309.35 L405.28,308.90 L406.63,308.44 L407.98,307.97 L409.32,307.50 L410.65,307.01 L411.98,306.51 L413.30,306.00 L414.62,305.48 L415.93,304.94 L417.23,304.39 L418.53,303.83 L419.83,303.26 L421.11,302.67 L422.40,302.07 L423.67,301.46 L424.94,300.84 L426.21,300.21 L427.48,299.57 L428.73,298.92 L429.99,298.26 L431.24,297.59 L432.49,296.92 L433.74,296.24 L434.99,295.56 L436.23,294.87 L437.47,294.18 L438.71,293.49 L439.95,292.79 L441.19,292.09 L442.43,291.39 L443.67,290.69 L444.91,289.98 L446.15,289.28 L447.39,288.59 L448.63,287.89 L449.88,287.20 L451.13,286.51 L452.37,285.82 L453.63,285.14 L454.88,284.46 L456.14,283.79 L457.40,283.13 L458.66,282.46 L459.92,281.80 L461.18,281.14 L462.44,280.48 L463.70,279.82 L464.96,279.16 L466.23,278.50 L467.48,277.84 L468.74,277.17 L470.00,276.50 L471.25,275.83 L472.50,275.16 L473.75,274.48 L474.99,273.80 L476.23,273.11 L477.47,272.41 L478.70,271.71 L479.92,271.00 L481.14,270.28 L482.35,269.55 L483.56,268.82 L484.77,268.07 L485.96,267.32 L487.16,266.56 L488.35,265.80 L489.54,265.03 L490.72,264.25 L491.90,263.47 L493.08,262.69 L494.25,261.90 L495.43,261.11 L496.60,260.32 L497.77,259.52 L498.94,258.73 L500.11,257.93 L501.28,257.13 L502.45,256.34 L503.62,255.54 L504.80,254.74 L505.97,253.95 L507.15,253.16 L508.33,252.38 L509.52,251.60 L510.70,250.82 L511.90,250.05 L513.10,249.29 L514.30,248.54 L515.51,247.79 L516.73,247.06 L517.95,246.33 L519.18,245.62 L520.42,244.92 L521.66,244.22 L522.91,243.53 L524.17,242.86 L525.43,242.19 L526.69,241.53 L527.96,240.88 L529.23,240.24 L530.51,239.60 L531.79,238.98 L533.08,238.36 L534.37,237.75 L535.66,237.15 L536.95,236.55 L538.25,235.97 L539.55,235.39 L540.85,234.81 L542.16,234.25 L543.46,233.69 L544.77,233.14 L546.09,232.59 L547.40,232.05 L548.72,231.52 L550.04,230.99 L551.36,230.47 L552.68,229.95 L554.01,229.44 L555.33,228.93 L556.66,228.43 L557.99,227.94 L559.33,227.44 L560.66,226.96 L562.00,226.47 L563.33,225.99 L564.67,225.52 L566.01,225.05 L567.35,224.58 L568.70,224.12 L570.04,223.65 L571.38,223.20 L572.73,222.74 L574.08,222.29 L575.42,221.84 L576.77,221.39 L578.12,220.94 L579.47,220.50 L580.82,220.06 L582.17,219.62 L583.53,219.18 L584.88,218.74 L586.23,218.30 L587.59,217.87 L588.94,217.43 L590.29,217.00 L591.65,216.57 L593.00,216.13 L594.35,215.70 L595.71,215.26 L597.06,214.83 L598.42,214.39 L599.77,213.96 L601.12,213.52 L602.47,213.09 L603.83,212.65 L605.18,212.21 L606.53,211.77 L607.88,211.32 L609.23,210.88 L610.58,210.43 L611.93,209.98 L613.27,209.53 L614.62,209.07 L615.97,208.62 L617.31,208.16 L618.65,207.69 L619.99,207.23 L621.34,206.76 L622.67,206.28 L624.01,205.80 L625.35,205.32 L626.68,204.84 L628.02,204.35 L629.35,203.85 L630.68,203.35 L632.01,202.85 L633.33,202.34 L634.66,201.82 L635.98,201.30 L637.30,200.78 L638.62,200.24 L639.93,199.71 L641.25,199.16 L642.56,198.61 L643.87,198.06 L645.17,197.50 L646.48,196.94 L647.79,196.37 L649.09,195.81 L650.40,195.24 L651.70,194.67 L653.00,194.10 L654.31,193.53 L655.61,192.97 L656.92,192.40 L658.22,191.84 L659.53,191.28 L660.84,190.72 L662.15,190.17 L663.46,189.63 L664.77,189.09 L666.09,188.56 L667.41,188.03 L668.73,187.52 L670.05,187.01 L671.38,186.50 L672.71,186.01 L674.03,185.51 L675.36,185.02 L676.69,184.53 L678.03,184.04 L679.36,183.55 L680.69,183.07 L682.02,182.58 L683.35,182.08 L684.68,181.59 L686.01,181.09 L687.34,180.58 L688.66,180.07 L689.99,179.55 L691.31,179.03 L692.63,178.50 L693.94,177.96 L695.26,177.42 L696.57,176.87 L697.89,176.32 L699.20,175.77 L700.51,175.22 L701.83,174.66 L703.14,174.11 L704.45,173.56 L705.77,173.01 L707.08,172.47 L708.40,171.93 L709.72,171.39 L711.04,170.86 L712.36,170.34 L713.68,169.83 L715.01,169.32 L716.33,168.83 L717.66,168.34 L719.00,167.86 L720.34,167.40 L721.68,166.95 L723.02,166.52 L724.37,166.10 L725.73,165.69 L727.09,165.31 L728.45,164.94 L729.82,164.58 L731.20,164.25 L732.58,163.94 L733.97,163.65 L735.36,163.38 L736.76,163.12 L738.16,162.89 L739.57,162.67 L740.98,162.47 L742.39,162.27 L743.81,162.10 L745.23,161.93 L746.65,161.77 L748.08,161.62 L749.50,161.48 L750.93,161.34 L752.36,161.21 L753.78,161.08 L755.21,160.96 L756.64,160.83 L758.07,160.71 L759.49,160.58 L760.91,160.45 L762.33,160.32 L763.75,160.18 L765.17,160.04 L766.58,159.89 L767.99,159.72 L769.39,159.55 L770.79,159.37 L772.18,159.17 L773.57,158.96 L774.95,158.74 L776.33,158.49 L777.70,158.23 L779.06,157.95 L780.41,157.64 L781.76,157.30 L783.10,156.94 L784.43,156.54 L785.75,156.10 L787.06,155.63 L788.36,155.12 L789.65,154.56 L790.93,153.96 L792.21,153.31 L793.47,152.61 L794.71,151.85" stroke="#006400" stroke-width="3.6"/>
<path d="M158.84,27.40 L159.02,28.16 L159.39,29.69 L159.76,31.22 L160.12,32.76 L160.48,34.29 L160.83,35.83 L161.19,37.36 L161.54,38.90 L161.89,40.44 L162.23,41.98 L162.58,43.52 L162.92,45.06 L163.26,46.60 L163.60,48.14 L163.94,49.68 L164.28,51.22 L164.62,52.76 L164.95,54.30 L165.29,55.85 L165.62,57.39 L165.96,58.93 L166.29,60.48 L166.62,62.02 L166.96,63.56 L167.29,65.11 L167.62,66.65 L167.96,68.19 L168.29,69.74 L168.63,71.28 L168.96,72.82 L169.30,74.36 L169.64,75.91 L169.98,77.45 L170.32,78.99 L170.66,80.53 L171.01,82.07 L171.35,83.61 L171.70,85.15 L172.05,86.69 L172.40,88.23 L172.76,89.76 L173.12,91.30 L173.48,92.84 L173.84,94.37 L174.20,95.91 L174.57,97.44 L174.95,98.97 L175.32,100.50 L175.70,102.03 L176.08,103.56 L176.47,105.09 L176.86,106.62 L177.26,108.14 L177.66,109.67 L178.06,111.19 L178.47,112.71 L178.88,114.23 L179.30,115.75 L179.72,117.27 L180.14,118.78 L180.57,120.30 L181.00,121.81 L181.43,123.33 L181.87,124.84 L182.31,126.35 L182.75,127.87 L183.19,129.38 L183.64,130.89 L184.08,132.40 L184.53,133.91 L184.98,135.42 L185.43,136.92 L185.89,138.43 L186.34,139.94 L186.80,141.45 L187.25,142.96 L187.71,144.47 L188.16,145.97 L188.62,147.48 L189.07,148.99 L189.53,150.50 L189.98,152.01 L190.43,153.52 L190.89,155.03 L191.34,156.53 L191.79,158.05 L192.24,159.56 L192.68,161.07 L193.13,162.58 L193.57,164.09 L194.01,165.61 L194.45,167.12 L194.88,168.64 L195.31,170.15 L195.74,171.67 L196.17,173.19 L196.59,174.71 L197.01,176.23 L197.43,177.75 L197.84,179.27 L198.25,180.80 L198.65,182.32 L199.05,183.85 L199.45,185.38 L199.85,186.91 L200.24,188.44 L200.64,189.96 L201.03,191.49 L201.42,193.02 L201.81,194.55 L202.20,196.08 L202.59,197.61 L202.99,199.14 L203.38,200.67 L203.77,202.20 L204.17,203.73 L204.57,205.26 L204.97,206.78 L205.37,208.31 L205.78,209.83 L206.19,211.35 L206.60,212.87 L207.02,214.39 L207.45,215.91 L207.87,217.43 L208.31,218.94 L208.75,220.46 L209.19,221.97 L209.64,223.47 L210.10,224.98 L210.57,226.48 L211.04,227.98 L211.52,229.48 L212.01,230.98 L212.51,232.47 L213.02,233.96 L213.53,235.44 L214.05,236.93 L214.59,238.41 L215.12,239.89 L215.67,241.36 L216.22,242.84 L216.78,244.31 L217.34,245.78 L217.91,247.25 L218.48,248.71 L219.06,250.18 L219.64,251.65 L220.22,253.11 L220.81,254.58 L221.39,256.04 L221.98,257.50 L222.58,258.97 L223.17,260.43 L223.76,261.90 L224.35,263.36 L224.95,264.83 L225.54,266.29 L226.13,267.76 L226.72,269.23 L227.31,270.70 L227.89,272.17 L228.47,273.65 L229.05,275.12 L229.63,276.60 L230.20,278.08 L230.78,279.56 L231.35,281.04 L231.93,282.52 L232.50,284.00 L233.08,285.47 L233.66,286.95 L234.25,288.42 L234.84,289.89 L235.43,291.35 L236.04,292.81 L236.65,294.27 L237.26,295.72 L237.89,297.17 L238.53,298.61 L239.17,300.05 L239.83,301.47 L240.50,302.89 L241.18,304.31 L241.87,305.71 L242.58,307.11 L243.31,308.49 L244.05,309.87 L244.80,311.24 L245.58,312.59 L246.37,313.94 L247.18,315.27 L248.01,316.59 L248.87,317.90 L249.74,319.19 L250.63,320.47 L251.55,321.74 L252.50,322.99 L253.46,324.23 L254.45,325.45 L255.46,326.66 L256.48,327.86 L257.52,329.05 L258.58,330.23 L259.66,331.39 L260.74,332.55 L261.84,333.70 L262.95,334.85 L264.06,335.98 L265.19,337.11 L266.32,338.24 L267.45,339.36 L268.59,340.47 L269.73,341.59 L270.87,342.70 L272.00,343.81 L273.14,344.91 L274.27,346.02 L275.40,347.13 L276.52,348.22 L277.66,349.32 L278.79,350.40 L279.94,351.46 L281.09,352.52 L282.26,353.55 L283.44,354.56 L284.64,355.55 L285.86,356.51 L287.10,357.45 L288.36,358.35 L289.65,359.23 L290.95,360.08 L292.27,360.91 L293.61,361.72 L294.96,362.51 L296.33,363.28 L297.71,364.03 L299.10,364.77 L300.50,365.49 L301.91,366.20 L303.33,366.91 L304.76,367.60 L306.19,368.29 L307.63,368.98 L309.07,369.66 L310.51,370.34 L311.95,371.02 L313.40,371.70 L314.84,372.39 L316.28,373.08 L317.71,373.78 L319.14,374.49 L320.56,375.21 L321.98,375.93 L323.40,376.64 L324.82,377.36 L326.23,378.06 L327.66,378.75 L329.08,379.43 L330.51,380.08 L331.95,380.72 L333.40,381.32 L334.85,381.89 L336.32,382.43 L337.79,382.94 L339.28,383.40 L340.78,383.83 L342.29,384.22 L343.81,384.57 L345.34,384.88 L346.87,385.15 L348.42,385.38 L349.97,385.58 L351.52,385.74 L353.08,385.85 L354.64,385.93 L356.21,385.97 L357.78,385.97 L359.36,385.93 L360.93,385.85 L362.51,385.73 L364.08,385.57 L365.66,385.37 L367.23,385.14 L368.80,384.86 L370.37,384.56 L371.93,384.21 L373.48,383.84 L375.03,383.43 L376.57,382.99 L378.09,382.52 L379.61,382.02 L381.12,381.49 L382.61,380.94 L384.09,380.36 L385.55,379.75 L387.00,379.13 L388.44,378.47 L389.86,377.80 L391.27,377.10 L392.67,376.38 L394.06,375.65 L395.43,374.89 L396.80,374.11 L398.15,373.32 L399.49,372.51 L400.83,371.68 L402.15,370.84 L403.47,369.99 L404.77,369.12 L406.07,368.23 L407.36,367.34 L408.65,366.43 L409.93,365.51 L411.20,364.59 L412.47,363.65 L413.73,362.71 L414.99,361.76 L416.24,360.80 L417.49,359.83 L418.74,358.86 L419.98,357.89 L421.22,356.91 L422.46,355.94 L423.70,354.95 L424.94,353.97 L426.17,352.99 L427.41,352.00 L428.64,351.02 L429.87,350.03 L431.10,349.03 L432.32,348.04 L433.55,347.05 L434.77,346.05 L435.99,345.05 L437.21,344.04 L438.42,343.03 L439.63,342.02 L440.84,341.01 L442.04,339.99 L443.24,338.97 L444.44,337.94 L445.63,336.92 L446.82,335.88 L448.01,334.84 L449.19,333.80 L450.37,332.75 L451.54,331.70 L452.71,330.65 L453.87,329.59 L455.04,328.52 L456.20,327.46 L457.35,326.39 L458.51,325.32 L459.67,324.25 L460.82,323.18 L461.97,322.11 L463.13,321.03 L464.28,319.96 L465.43,318.89 L466.59,317.82 L467.74,316.75 L468.90,315.68 L470.06,314.61 L471.22,313.55 L472.39,312.48 L473.55,311.43 L474.72,310.37 L475.90,309.32 L477.07,308.27 L478.25,307.22 L479.43,306.18 L480.62,305.14 L481.81,304.11 L483.00,303.08 L484.19,302.05 L485.39,301.02 L486.59,300.00 L487.79,298.99 L489.00,297.98 L490.21,296.97 L491.43,295.97 L492.65,294.97 L493.87,293.97 L495.09,292.98 L496.32,292.00 L497.56,291.02 L498.79,290.04 L500.03,289.07 L501.28,288.10 L502.52,287.14 L503.77,286.19 L505.03,285.24 L506.29,284.29 L507.55,283.35 L508.82,282.42 L510.09,281.49 L511.37,280.56 L512.65,279.65 L513.93,278.74 L515.22,277.83 L516.51,276.93 L517.81,276.04 L519.11,275.15 L520.42,274.27 L521.73,273.39 L523.04,272.52 L524.36,271.66 L525.69,270.81 L527.02,269.96 L528.35,269.12 L529.69,268.28 L531.03,267.45 L532.38,266.63 L533.73,265.82 L535.08,265.01 L536.44,264.21 L537.81,263.41 L539.17,262.62 L540.54,261.84 L541.92,261.06 L543.30,260.29 L544.68,259.53 L546.07,258.77 L547.46,258.02 L548.85,257.27 L550.25,256.53 L551.65,255.80 L553.05,255.07 L554.46,254.35 L555.87,253.64 L557.29,252.93 L558.70,252.23 L560.12,251.53 L561.54,250.84 L562.97,250.15 L564.39,249.47 L565.82,248.80 L567.26,248.13 L568.69,247.47 L570.13,246.81 L571.57,246.16 L573.01,245.52 L574.45,244.88 L575.90,244.24 L577.35,243.61 L578.79,242.99 L580.25,242.37 L581.70,241.76 L583.15,241.15 L584.61,240.54 L586.07,239.94 L587.52,239.34 L588.98,238.74 L590.43,238.14 L591.89,237.54 L593.34,236.94 L594.80,236.34 L596.25,235.73 L597.70,235.12 L599.15,234.50 L600.59,233.88 L602.03,233.25 L603.47,232.61 L604.91,231.96 L606.34,231.31 L607.77,230.65 L609.19,229.99 L610.62,229.31 L612.04,228.63 L613.46,227.95 L614.87,227.26 L616.28,226.56 L617.70,225.86 L619.11,225.16 L620.51,224.45 L621.92,223.74 L623.32,223.02 L624.73,222.31 L626.13,221.59 L627.53,220.86 L628.93,220.14 L630.33,219.41 L631.73,218.68 L633.13,217.96 L634.53,217.23 L635.93,216.50 L637.33,215.77 L638.72,215.04 L640.12,214.32 L641.52,213.59 L642.92,212.87 L644.32,212.14 L645.72,211.42 L647.12,210.70 L648.53,209.98 L649.93,209.26 L651.33,208.54 L652.73,207.82 L654.13,207.09 L655.53,206.37 L656.93,205.65 L658.33,204.93 L659.73,204.21 L661.13,203.48 L662.53,202.76 L663.93,202.03 L665.32,201.30 L666.72,200.57 L668.12,199.84 L669.51,199.11 L670.91,198.37 L672.30,197.64 L673.69,196.90 L675.08,196.15 L676.47,195.41 L677.86,194.66 L679.25,193.91 L680.63,193.15 L682.01,192.40 L683.40,191.63 L684.78,190.87 L686.16,190.10 L687.53,189.33 L688.91,188.55 L690.28,187.77 L691.65,186.98 L693.02,186.19 L694.39,185.40 L695.76,184.60 L697.12,183.81 L698.49,183.02 L699.87,182.24 L701.24,181.46 L702.62,180.70 L704.00,179.94 L705.39,179.20 L706.78,178.48 L708.19,177.77 L709.60,177.08 L711.01,176.42 L712.44,175.77 L713.88,175.16 L715.33,174.57 L716.79,174.01 L718.26,173.47 L719.75,172.96 L721.23,172.46 L722.73,171.99 L724.24,171.53 L725.75,171.09 L727.26,170.66 L728.79,170.24 L730.31,169.83 L731.84,169.42 L733.38,169.03 L734.92,168.63 L736.45,168.25 L738.00,167.87 L739.54,167.49 L741.08,167.13 L742.63,166.78 L744.18,166.44 L745.73,166.12 L747.28,165.81 L748.83,165.51 L750.39,165.23 L751.94,164.97 L753.49,164.73 L755.05,164.50 L756.60,164.30 L758.16,164.13 L759.72,163.98 L761.28,163.86 L762.83,163.76 L764.40,163.69 L765.96,163.64 L767.52,163.61 L769.08,163.59 L770.64,163.58 L772.20,163.56 L773.76,163.54 L775.31,163.51 L776.86,163.45 L778.41,163.36 L779.94,163.24 L781.48,163.06 L783.00,162.84 L784.51,162.55 L786.02,162.18 L787.51,161.74 L788.99,161.22 L790.45,160.60 L791.90,159.87 L793.34,159.04 L794.76,158.10" stroke="#7030a0" stroke-width="3.6"/>
<path d="M162.67,27.40 L162.90,28.48 L163.26,30.09 L163.61,31.71 L163.96,33.32 L164.31,34.94 L164.66,36.55 L165.01,38.17 L165.35,39.79 L165.70,41.40 L166.04,43.02 L166.38,44.64 L166.72,46.26 L167.05,47.88 L167.39,49.50 L167.72,51.11 L168.06,52.73 L168.39,54.35 L168.72,55.97 L169.05,57.59 L169.38,59.21 L169.71,60.84 L170.04,62.46 L170.37,64.08 L170.69,65.70 L171.02,67.32 L171.35,68.94 L171.67,70.56 L172.00,72.18 L172.33,73.81 L172.65,75.43 L172.98,77.05 L173.30,78.67 L173.63,80.29 L173.95,81.91 L174.28,83.54 L174.61,85.16 L174.93,86.78 L175.26,88.40 L175.59,90.02 L175.92,91.64 L176.25,93.26 L176.58,94.88 L176.91,96.50 L177.24,98.12 L177.57,99.74 L177.90,101.36 L178.24,102.98 L178.57,104.60 L178.91,106.22 L179.25,107.84 L179.59,109.46 L179.93,111.07 L180.27,112.69 L180.62,114.31 L180.96,115.92 L181.31,117.54 L181.66,119.15 L182.00,120.77 L182.36,122.38 L182.71,124.00 L183.06,125.61 L183.41,127.23 L183.77,128.84 L184.13,130.45 L184.48,132.07 L184.84,133.68 L185.20,135.29 L185.56,136.91 L185.92,138.52 L186.29,140.13 L186.65,141.74 L187.02,143.35 L187.38,144.96 L187.75,146.57 L188.12,148.18 L188.49,149.79 L188.86,151.40 L189.23,153.01 L189.61,154.62 L189.98,156.23 L190.35,157.84 L190.73,159.45 L191.11,161.06 L191.48,162.67 L191.86,164.28 L192.24,165.88 L192.62,167.49 L193.00,169.10 L193.39,170.71 L193.77,172.31 L194.15,173.92 L194.54,175.53 L194.92,177.14 L195.31,178.74 L195.69,180.35 L196.08,181.96 L196.47,183.56 L196.86,185.17 L197.25,186.78 L197.64,188.38 L198.03,189.99 L198.42,191.59 L198.81,193.20 L199.21,194.81 L199.60,196.41 L199.99,198.02 L200.39,199.62 L200.78,201.23 L201.18,202.83 L201.58,204.44 L201.97,206.04 L202.37,207.65 L202.77,209.26 L203.17,210.86 L203.57,212.47 L203.97,214.07 L204.37,215.68 L204.77,217.28 L205.17,218.89 L205.57,220.49 L205.97,222.10 L206.37,223.70 L206.78,225.31 L207.18,226.91 L207.58,228.51 L207.99,230.12 L208.39,231.72 L208.80,233.32 L209.21,234.93 L209.61,236.53 L210.02,238.13 L210.43,239.74 L210.84,241.34 L211.25,242.94 L211.66,244.54 L212.07,246.14 L212.48,247.74 L212.89,249.35 L213.31,250.95 L213.72,252.55 L214.13,254.14 L214.55,255.74 L214.96,257.34 L215.38,258.94 L215.79,260.54 L216.21,262.13 L216.63,263.73 L217.05,265.33 L217.47,266.92 L217.89,268.52 L218.31,270.11 L218.73,271.71 L219.15,273.30 L219.58,274.89 L220.00,276.48 L220.43,278.07 L220.85,279.67 L221.29,281.25 L221.72,282.84 L222.16,284.43 L222.60,286.02 L223.05,287.60 L223.51,289.18 L223.97,290.77 L224.44,292.35 L224.92,293.92 L225.40,295.50 L225.90,297.08 L226.40,298.65 L226.92,300.22 L227.44,301.79 L227.98,303.35 L228.53,304.92 L229.09,306.48 L229.66,308.04 L230.25,309.59 L230.84,311.14 L231.45,312.69 L232.07,314.23 L232.70,315.77 L233.34,317.31 L234.00,318.84 L234.67,320.36 L235.35,321.88 L236.04,323.39 L236.75,324.90 L237.47,326.40 L238.20,327.90 L238.94,329.38 L239.70,330.86 L240.47,332.34 L241.25,333.80 L242.04,335.26 L242.85,336.71 L243.67,338.15 L244.50,339.58 L245.35,341.00 L246.21,342.42 L247.08,343.82 L247.97,345.21 L248.87,346.60 L249.78,347.97 L250.71,349.33 L251.65,350.69 L252.60,352.03 L253.57,353.35 L254.55,354.67 L255.54,355.98 L256.55,357.27 L257.57,358.55 L258.61,359.82 L259.66,361.07 L260.72,362.31 L261.80,363.55 L262.88,364.77 L263.99,365.97 L265.10,367.17 L266.23,368.35 L267.37,369.52 L268.52,370.69 L269.68,371.84 L270.86,372.97 L272.05,374.10 L273.25,375.22 L274.46,376.32 L275.69,377.42 L276.92,378.50 L278.17,379.57 L279.43,380.64 L280.70,381.69 L281.98,382.73 L283.27,383.76 L284.57,384.78 L285.88,385.79 L287.20,386.79 L288.54,387.79 L289.88,388.77 L291.24,389.74 L292.60,390.70 L293.97,391.65 L295.36,392.60 L296.75,393.53 L298.15,394.46 L299.56,395.37 L300.98,396.28 L302.41,397.17 L303.85,398.06 L305.30,398.92 L306.75,399.77 L308.22,400.60 L309.69,401.42 L311.17,402.21 L312.66,402.98 L314.16,403.72 L315.66,404.44 L317.17,405.13 L318.69,405.79 L320.22,406.43 L321.75,407.03 L323.29,407.59 L324.84,408.13 L326.39,408.62 L327.95,409.08 L329.52,409.50 L331.09,409.87 L332.67,410.20 L334.25,410.49 L335.84,410.73 L337.44,410.93 L339.04,411.08 L340.65,411.18 L342.26,411.24 L343.87,411.25 L345.48,411.22 L347.10,411.15 L348.72,411.04 L350.34,410.89 L351.96,410.70 L353.58,410.47 L355.20,410.20 L356.81,409.89 L358.43,409.55 L360.04,409.18 L361.64,408.77 L363.25,408.33 L364.85,407.86 L366.44,407.35 L368.03,406.82 L369.61,406.26 L371.18,405.67 L372.75,405.05 L374.30,404.41 L375.85,403.74 L377.39,403.04 L378.92,402.33 L380.44,401.59 L381.94,400.83 L383.44,400.04 L384.92,399.24 L386.39,398.42 L387.84,397.58 L389.28,396.73 L390.70,395.86 L392.11,394.97 L393.51,394.07 L394.89,393.15 L396.26,392.22 L397.62,391.28 L398.96,390.32 L400.30,389.35 L401.62,388.37 L402.93,387.37 L404.23,386.36 L405.52,385.34 L406.80,384.32 L408.07,383.28 L409.33,382.23 L410.59,381.17 L411.83,380.10 L413.07,379.02 L414.31,377.94 L415.53,376.85 L416.75,375.75 L417.96,374.64 L419.17,373.53 L420.38,372.41 L421.58,371.29 L422.77,370.16 L423.97,369.02 L425.16,367.89 L426.34,366.74 L427.53,365.60 L428.71,364.45 L429.89,363.30 L431.07,362.15 L432.25,360.99 L433.43,359.84 L434.60,358.67 L435.77,357.51 L436.95,356.35 L438.12,355.18 L439.29,354.01 L440.46,352.84 L441.63,351.67 L442.80,350.50 L443.96,349.32 L445.13,348.15 L446.30,346.97 L447.46,345.80 L448.63,344.62 L449.80,343.44 L450.96,342.26 L452.13,341.08 L453.30,339.91 L454.46,338.73 L455.63,337.55 L456.80,336.37 L457.96,335.19 L459.13,334.02 L460.30,332.84 L461.47,331.66 L462.64,330.49 L463.82,329.32 L464.99,328.14 L466.17,326.97 L467.34,325.80 L468.52,324.64 L469.70,323.47 L470.88,322.31 L472.06,321.14 L473.25,319.98 L474.43,318.83 L475.62,317.67 L476.81,316.52 L478.00,315.37 L479.20,314.22 L480.40,313.08 L481.60,311.94 L482.80,310.80 L484.01,309.67 L485.21,308.54 L486.43,307.41 L487.64,306.29 L488.86,305.17 L490.08,304.06 L491.30,302.95 L492.53,301.84 L493.76,300.74 L494.99,299.65 L496.23,298.56 L497.47,297.47 L498.72,296.39 L499.97,295.31 L501.22,294.24 L502.48,293.18 L503.74,292.12 L505.01,291.06 L506.28,290.01 L507.55,288.96 L508.83,287.92 L510.11,286.89 L511.39,285.86 L512.68,284.83 L513.97,283.81 L515.26,282.79 L516.56,281.77 L517.86,280.76 L519.16,279.75 L520.47,278.74 L521.78,277.74 L523.09,276.74 L524.40,275.75 L525.72,274.75 L527.04,273.76 L528.36,272.77 L529.68,271.79 L531.00,270.80 L532.33,269.82 L533.66,268.84 L534.99,267.86 L536.32,266.88 L537.65,265.91 L538.99,264.93 L540.32,263.96 L541.66,262.98 L543.00,262.01 L544.34,261.04 L545.68,260.07 L547.02,259.10 L548.36,258.13 L549.70,257.16 L551.05,256.19 L552.39,255.22 L553.74,254.25 L555.09,253.29 L556.44,252.32 L557.79,251.36 L559.14,250.40 L560.49,249.44 L561.85,248.49 L563.21,247.54 L564.57,246.59 L565.93,245.65 L567.30,244.71 L568.67,243.78 L570.04,242.85 L571.41,241.93 L572.79,241.01 L574.17,240.10 L575.56,239.20 L576.95,238.30 L578.34,237.41 L579.73,236.53 L581.14,235.65 L582.54,234.78 L583.95,233.93 L585.36,233.08 L586.78,232.23 L588.20,231.40 L589.63,230.58 L591.06,229.77 L592.50,228.97 L593.95,228.18 L595.40,227.40 L596.85,226.63 L598.31,225.87 L599.78,225.13 L601.25,224.40 L602.73,223.68 L604.21,222.97 L605.71,222.28 L607.20,221.59 L608.70,220.92 L610.21,220.25 L611.72,219.59 L613.23,218.94 L614.74,218.30 L616.26,217.66 L617.78,217.03 L619.30,216.39 L620.83,215.76 L622.35,215.14 L623.87,214.51 L625.39,213.88 L626.91,213.25 L628.43,212.61 L629.95,211.98 L631.46,211.34 L632.98,210.69 L634.48,210.04 L635.99,209.37 L637.49,208.70 L638.98,208.03 L640.47,207.34 L641.96,206.64 L643.43,205.93 L644.91,205.21 L646.38,204.47 L647.84,203.74 L649.30,202.99 L650.75,202.23 L652.20,201.46 L653.65,200.69 L655.09,199.91 L656.53,199.12 L657.96,198.32 L659.40,197.52 L660.83,196.72 L662.25,195.90 L663.68,195.08 L665.10,194.26 L666.52,193.43 L667.94,192.60 L669.35,191.76 L670.77,190.92 L672.18,190.07 L673.60,189.23 L675.01,188.38 L676.42,187.53 L677.83,186.67 L679.24,185.82 L680.65,184.96 L682.06,184.11 L683.47,183.25 L684.89,182.39 L686.30,181.53 L687.71,180.68 L689.13,179.82 L690.55,178.97 L691.96,178.12 L693.38,177.27 L694.81,176.42 L696.23,175.58 L697.66,174.74 L699.09,173.91 L700.52,173.08 L701.96,172.25 L703.40,171.44 L704.85,170.63 L706.29,169.83 L707.75,169.04 L709.20,168.25 L710.66,167.48 L712.13,166.72 L713.60,165.97 L715.08,165.23 L716.56,164.50 L718.05,163.79 L719.54,163.09 L721.04,162.40 L722.55,161.73 L724.06,161.08 L725.58,160.44 L727.11,159.82 L728.65,159.22 L730.19,158.64 L731.74,158.07 L733.30,157.52 L734.86,157.00 L736.44,156.49 L738.02,156.00 L739.60,155.52 L741.19,155.06 L742.79,154.60 L744.39,154.16 L745.99,153.73 L747.59,153.30 L749.19,152.88 L750.80,152.46 L752.40,152.04 L754.00,151.62 L755.60,151.21 L757.20,150.79 L758.79,150.38 L760.39,149.99 L761.99,149.63 L763.59,149.31 L765.19,149.02 L766.80,148.79 L768.42,148.62 L770.04,148.52 L771.67,148.47 L773.31,148.46 L774.95,148.50 L776.60,148.57 L778.25,148.66 L779.90,148.78 L781.56,148.90 L783.21,149.03 L784.87,149.16 L786.53,149.27 L788.19,149.37 L789.85,149.44 L791.50,149.48 L793.16,149.48 L794.81,149.43" stroke="#ff0066" stroke-width="3.8"/>
</g>
<g font-family="'Liberation Sans', sans-serif" font-weight="bold" style="font-kerning:none" font-size="33.7" fill="#000">
<text transform="translate(82.56,38.00) scale(1,1.045)" font-size="33.70">5</text>
<text transform="translate(82.56,83.61) scale(1,1.045)" font-size="33.70">3</text>
<text transform="translate(82.56,129.22) scale(1,1.045)" font-size="33.70"> </text>
<path d="M0.254,0 L0.396,0 L0.396,0.68 L0.283,0.68 C0.255,0.625 0.17,0.55 0.078,0.515 L0.078,0.395 C0.15,0.42 0.21,0.45 0.254,0.475 Z" transform="translate(82.56,129.22) scale(33.700,-35.217)"/>
<text transform="translate(71.34,174.83) scale(1,1.045)" font-size="33.70">- </text>
<path d="M0.254,0 L0.396,0 L0.396,0.68 L0.283,0.68 C0.255,0.625 0.17,0.55 0.078,0.515 L0.078,0.395 C0.15,0.42 0.21,0.45 0.254,0.475 Z" transform="translate(82.56,174.83) scale(33.700,-35.217)"/>
<text transform="translate(71.34,220.44) scale(1,1.045)" font-size="33.70">-3</text>
<text transform="translate(71.34,266.05) scale(1,1.045)" font-size="33.70">-5</text>
<text transform="translate(71.34,311.66) scale(1,1.045)" font-size="33.70">-7</text>
<text transform="translate(71.34,357.27) scale(1,1.045)" font-size="33.70">-9</text>
<text transform="translate(52.59,402.88) scale(1,1.045)" font-size="33.70">-  </text>
<path d="M0.254,0 L0.396,0 L0.396,0.68 L0.283,0.68 C0.255,0.625 0.17,0.55 0.078,0.515 L0.078,0.395 C0.15,0.42 0.21,0.45 0.254,0.475 Z" transform="translate(63.82,402.88) scale(33.700,-35.217)"/>
<path d="M0.254,0 L0.396,0 L0.396,0.68 L0.283,0.68 C0.255,0.625 0.17,0.55 0.078,0.515 L0.078,0.395 C0.15,0.42 0.21,0.45 0.254,0.475 Z" transform="translate(82.56,402.88) scale(33.700,-35.217)"/>
<text transform="translate(52.59,448.49) scale(1,1.045)" font-size="33.70">- 3</text>
<path d="M0.254,0 L0.396,0 L0.396,0.68 L0.283,0.68 C0.255,0.625 0.17,0.55 0.078,0.515 L0.078,0.395 C0.15,0.42 0.21,0.45 0.254,0.475 Z" transform="translate(63.82,448.49) scale(33.700,-35.217)"/>
<text transform="translate(52.59,494.10) scale(1,1.045)" font-size="33.70">- 5</text>
<path d="M0.254,0 L0.396,0 L0.396,0.68 L0.283,0.68 C0.255,0.625 0.17,0.55 0.078,0.515 L0.078,0.395 C0.15,0.42 0.21,0.45 0.254,0.475 Z" transform="translate(63.82,494.10) scale(33.700,-35.217)"/>
<text transform="translate(102.49,191.90) scale(1,1.045)" font-size="33.70">200</text>
<text transform="translate(235.21,191.90) scale(1,1.045)" font-size="33.70">2 0</text>
<path d="M0.254,0 L0.396,0 L0.396,0.68 L0.283,0.68 C0.255,0.625 0.17,0.55 0.078,0.515 L0.078,0.395 C0.15,0.42 0.21,0.45 0.254,0.475 Z" transform="translate(253.95,191.90) scale(33.700,-35.217)"/>
<text transform="translate(367.93,191.90) scale(1,1.045)" font-size="33.70">220</text>
<text transform="translate(500.65,191.90) scale(1,1.045)" font-size="33.70">230</text>
<text transform="translate(633.37,191.90) scale(1,1.045)" font-size="33.70">240</text>
<text transform="translate(766.09,191.90) scale(1,1.045)" font-size="33.70">250</text>
<text transform="translate(326.66,517.00) scale(1,1.045)" font-size="33.70">Wavelength (nm)</text>
<text transform="translate(40.8,255.8) rotate(-90) scale(1,1.045)" text-anchor="middle">CD (medg)</text>
</g>
<g font-family="'Liberation Sans', sans-serif" font-weight="bold" style="font-kerning:none" font-size="21.8" fill="#000">
<line x1="447.8" y1="357.0" x2="470.8" y2="357.0" stroke="#000000" stroke-width="3.8" stroke-linecap="round"/>
<text transform="translate(473.60,363.80) scale(1,1.030)" font-size="21.80">BLG+0mM SY+0mM NaCl</text>
<line x1="447.8" y1="379.6" x2="470.8" y2="379.6" stroke="#ff0000" stroke-width="3.8" stroke-linecap="round"/>
<text transform="translate(473.60,386.40) scale(1,1.030)" font-size="21.80">BLG+0.2mM SY+0mM NaCl</text>
<line x1="447.8" y1="402.2" x2="470.8" y2="402.2" stroke="#0000cc" stroke-width="3.8" stroke-linecap="round"/>
<text transform="translate(473.60,409.00) scale(1,1.030)" font-size="21.80">BLG+0.2mM SY+ 00mM NaCl</text>
<path d="M0.254,0 L0.396,0 L0.396,0.68 L0.283,0.68 C0.255,0.625 0.17,0.55 0.078,0.515 L0.078,0.395 C0.15,0.42 0.21,0.45 0.254,0.475 Z" transform="translate(648.06,409.00) scale(21.800,-22.454)"/>
<line x1="447.8" y1="424.8" x2="470.8" y2="424.8" stroke="#006400" stroke-width="3.8" stroke-linecap="round"/>
<text transform="translate(473.60,431.60) scale(1,1.030)" font-size="21.80">BLG+0.2mM SY+ 50mM NaCl</text>
<path d="M0.254,0 L0.396,0 L0.396,0.68 L0.283,0.68 C0.255,0.625 0.17,0.55 0.078,0.515 L0.078,0.395 C0.15,0.42 0.21,0.45 0.254,0.475 Z" transform="translate(648.06,431.60) scale(21.800,-22.454)"/>
<line x1="447.8" y1="447.4" x2="470.8" y2="447.4" stroke="#7030a0" stroke-width="3.8" stroke-linecap="round"/>
<text transform="translate(473.60,454.20) scale(1,1.030)" font-size="21.80">BLG+0.2mM SY+200mM NaCl</text>
<line x1="447.8" y1="470.0" x2="470.8" y2="470.0" stroke="#ff0066" stroke-width="3.8" stroke-linecap="round"/>
<text transform="translate(473.60,476.80) scale(1,1.030)" font-size="21.80">BLG+0.2mM SY+500mM NaCl</text>
</g>
</svg>
</body></html>
